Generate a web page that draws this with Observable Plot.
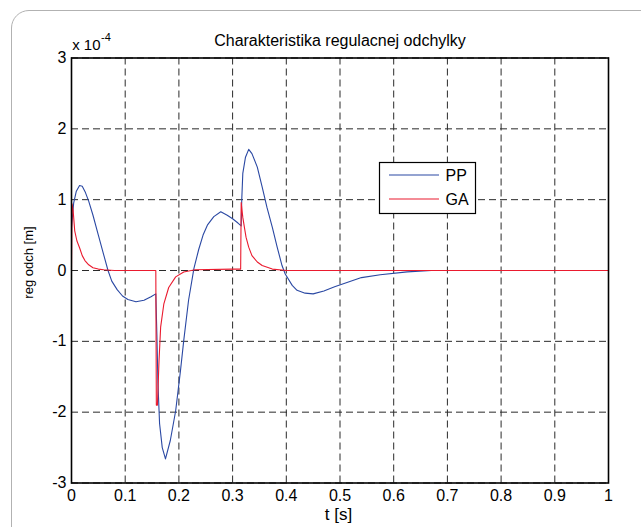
<!DOCTYPE html>
<html>
<head>
<meta charset="utf-8">
<script src="https://cdn.jsdelivr.net/npm/d3@7"></script>
<script src="https://cdn.jsdelivr.net/npm/@observablehq/plot@0.6"></script>
<style>
  html, body { margin: 0; padding: 0; background: #fff; overflow: hidden; }
  #wrap { position: relative; width: 641px; height: 527px; overflow: hidden; }
  #border { position: absolute; left: 11px; top: 10px; width: 720px; height: 620px;
            border: 1.5px solid #b2b2b2; border-radius: 18px; box-sizing: border-box; }
  #chart { position: absolute; left: 0; top: 0; }
</style>
</head>
<body>
<div id="wrap"><div id="border"></div><div id="chart"></div></div>
<script>
// ---- data (values of the deviation in units of 1e-4 m) ----
const titleText = "Charakteristika regulacnej odchylky";
const xLabel = "t [s]";
const yLabel = "reg odch [m]";
const yExpBase = "x 10";
const yExpPower = "-4";

const seriesNames = ["PP", "GA"];
const seriesColors = ["#2a48a3", "#ea1a2e"];

const xTicks = [0, 0.1, 0.2, 0.3, 0.4, 0.5, 0.6, 0.7, 0.8, 0.9, 1];
const xTickLabels = ["0", "0.1", "0.2", "0.3", "0.4", "0.5", "0.6", "0.7", "0.8", "0.9", "1"];
const yTicks = [-3, -2, -1, 0, 1, 2, 3];
const yTickLabels = ["-3", "-2", "-1", "0", "1", "2", "3"];

const ppT = [0, 0.004, 0.009, 0.015, 0.02, 0.026, 0.032, 0.04, 0.05, 0.06, 0.068, 0.075, 0.085, 0.095, 0.105, 0.12, 0.135, 0.148, 0.157,
             0.159, 0.161, 0.164, 0.169, 0.175, 0.184, 0.194, 0.203, 0.209, 0.218, 0.228, 0.237, 0.245, 0.253, 0.265, 0.278, 0.29, 0.3, 0.31, 0.316,
             0.317, 0.319, 0.324, 0.33, 0.336, 0.346, 0.355, 0.364, 0.374, 0.383, 0.392, 0.398, 0.411, 0.42, 0.435, 0.45, 0.47, 0.49, 0.513, 0.54,
             0.575, 0.625, 0.67, 0.75, 0.85, 1];
const ppV = [0.62, 0.95, 1.12, 1.2, 1.19, 1.1, 0.98, 0.78, 0.5, 0.22, 0.0, -0.15, -0.27, -0.36, -0.41, -0.44, -0.42, -0.37, -0.33,
             -0.9, -1.6, -2.16, -2.5, -2.66, -2.4, -1.98, -1.41, -0.99, -0.42, 0.03, 0.3, 0.5, 0.64, 0.76, 0.83, 0.78, 0.73, 0.67, 0.63,
             0.99, 1.37, 1.6, 1.71, 1.65, 1.46, 1.18, 0.89, 0.61, 0.33, 0.07, -0.05, -0.21, -0.28, -0.32, -0.33, -0.29, -0.23, -0.17, -0.1,
             -0.06, -0.02, 0.0, 0.0, 0.0, 0.0];

const gaT = [0, 0.001, 0.003, 0.006, 0.01, 0.0155, 0.02, 0.025, 0.032, 0.04, 0.05, 0.06, 0.08, 0.157,
             0.158, 0.16, 0.163, 0.166, 0.172, 0.181, 0.194, 0.209, 0.23, 0.3, 0.315,
             0.316, 0.319, 0.322, 0.325, 0.33, 0.336, 0.346, 0.355, 0.374, 0.4, 0.7, 1];
const gaV = [0, 0.94, 0.85, 0.56, 0.42, 0.31, 0.21, 0.14, 0.08, 0.04, 0.02, 0.01, 0.0, 0.0,
             -1.9, -1.9, -1.27, -0.8, -0.47, -0.24, -0.09, -0.02, 0.01, 0.02, 0.02,
             0.96, 0.75, 0.61, 0.47, 0.33, 0.21, 0.12, 0.07, 0.02, 0.0, 0.0, 0.0];

// ---- build rows ----
const ppRows = ppT.map((t, i) => ({t, v: ppV[i]}));
const gaRows = gaT.map((t, i) => ({t, v: gaV[i]}));

const font = "'Liberation Sans', Arial, Helvetica, sans-serif";
const gridStyle = {stroke: "#2a2a2a", strokeOpacity: 1, strokeWidth: 1, strokeDasharray: "7,4"};

const chart = Plot.plot({
  width: 641,
  height: 527,
  marginLeft: 71,
  marginRight: 33,
  marginTop: 57.5,
  marginBottom: 44.5,
  style: {fontFamily: font, fontSize: "16px", background: "transparent", color: "#000"},
  x: {domain: [0, 1]},
  y: {domain: [-3, 3]},
  marks: [
    Plot.gridX(xTicks, gridStyle),
    Plot.gridY(yTicks, gridStyle),
    Plot.line(ppRows, {x: "t", y: "v", stroke: seriesColors[0], strokeWidth: 1.1}),
    Plot.line(gaRows, {x: "t", y: "v", stroke: seriesColors[1], strokeWidth: 1.1}),
    Plot.frame({stroke: "#000", strokeWidth: 1.6}),
    Plot.axisX(xTicks, {anchor: "bottom", tickSize: 0, tickPadding: 7, label: null,
      tickFormat: d => xTickLabels[xTicks.indexOf(d)]}),
    Plot.axisY(yTicks, {anchor: "left", tickSize: 0, tickPadding: 5, label: null,
      tickFormat: d => yTickLabels[yTicks.indexOf(d)]}),
    Plot.text([titleText], {frameAnchor: "top", dy: -17, lineAnchor: "middle", fontSize: 16}),
    Plot.text([yExpBase], {frameAnchor: "top-left", dx: 0.7, dy: -12.6, textAnchor: "start", lineAnchor: "middle", fontSize: 15}),
    Plot.text([yExpPower], {frameAnchor: "top-left", dx: 29.5, dy: -21, textAnchor: "start", lineAnchor: "middle", fontSize: 11}),
    Plot.text([xLabel], {frameAnchor: "bottom", dx: -1.5, dy: 32, lineAnchor: "middle", fontSize: 17})
  ]
});
document.getElementById("chart").appendChild(chart);

const svg = d3.select(chart);

// ---- y axis label (rotated) ----
svg.append("text")
  .attr("transform", "translate(33.3,262.5) rotate(-90)")
  .attr("text-anchor", "middle")
  .attr("font-family", font).attr("font-size", 13).attr("fill", "#000")
  .text(yLabel);

// ---- legend box inside the axes ----
const lg = svg.append("g").attr("font-family", font).attr("font-size", 16);
lg.append("rect").attr("x", 379.5).attr("y", 162.5).attr("width", 96).attr("height", 51)
  .attr("fill", "#fff").attr("stroke", "#000").attr("stroke-width", 1.2);
seriesNames.forEach((name, i) => {
  const yy = 175 + i * 24;
  lg.append("line").attr("x1", 389).attr("x2", 439).attr("y1", yy).attr("y2", yy)
    .attr("stroke", seriesColors[i]).attr("stroke-width", 1.1);
  lg.append("text").attr("x", 445.5).attr("y", yy + 6.3).attr("text-anchor", "start")
    .attr("fill", "#000").text(name);
});
</script>
</body>
</html>
